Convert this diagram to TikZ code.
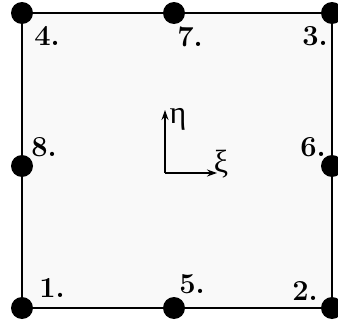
\documentclass[tikz,border=0pt]{standalone}
\usepackage{fontspec}
\newfontfamily\grk{Liberation Serif}
\usetikzlibrary{arrows.meta}
\begin{document}
\begin{tikzpicture}[x=1pt,y=-1pt,
  dot/.style={circle,fill=black,inner sep=0pt,minimum size=22pt},
  lbl/.style={font=\fontsize{29}{29}\selectfont\bfseries,inner sep=0pt},
  edge/.style={line width=1.8pt},
  axis/.style={line width=1.4pt,-{Stealth[length=10pt,width=7pt]}},
  grl/.style={font=\fontsize{32}{32}\selectfont\grk,inner sep=0pt}]
\useasboundingbox (0,0) rectangle (338,324);
\coordinate (c1) at (22,308);
\coordinate (c2) at (332,308);
\coordinate (c3) at (332,13);
\coordinate (c4) at (22,13);
\fill[gray!5] (c1) -- (c2) -- (c3) -- (c4) -- cycle;
\node[dot] (n1) at (c1) {};
\node[dot] (n2) at (c2) {};
\node[dot] (n3) at (c3) {};
\node[dot] (n4) at (c4) {};
\node[dot] (n5) at (174,308) {};
\node[dot] (n6) at (332,166) {};
\node[dot] (n7) at (174,13) {};
\node[dot] (n8) at (22,166) {};
\draw[edge] (n1.center) -- (n5.center) -- (n2.center) -- (n6.center) -- (n3.center) -- (n7.center) -- (n4.center) -- (n8.center) -- cycle;
\node[lbl] (l1) at (52,288) {1.};
\node[lbl] (l2) at (305,291) {2.};
\node[lbl] (l3) at (315,36) {3.};
\node[lbl] (l4) at (47,36) {4.};
\node[lbl] (l5) at (192,284) {5.};
\node[lbl] (l6) at (313,147) {6.};
\node[lbl] (l7) at (190,37) {7.};
\node[lbl] (l8) at (44,147) {8.};
\coordinate (o) at (165,173);
\coordinate (ey) at (165,110);
\coordinate (ex) at (217,173);
\draw[axis] (o) -- (ey);
\draw[axis] (o) -- (ex);
\node[grl] (eta) at (178,119) {η};
\node[grl] (xi) at (221,164) {ξ};
\end{tikzpicture}
\end{document}
